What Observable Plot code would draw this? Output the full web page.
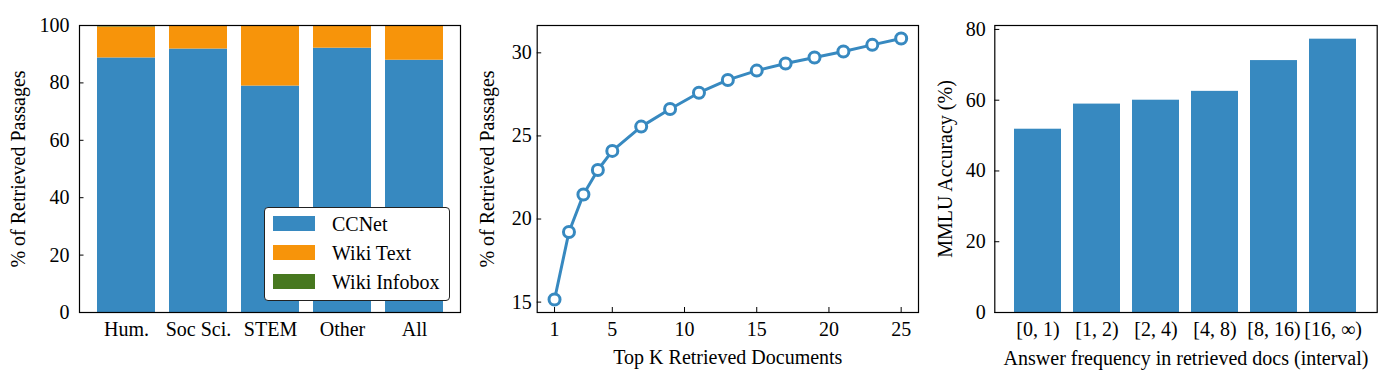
<!DOCTYPE html>
<html><head><meta charset="utf-8">
<script src="https://cdn.jsdelivr.net/npm/d3@7"></script>
<script src="https://cdn.jsdelivr.net/npm/@observablehq/plot@0.6"></script>
<style>
body{margin:0;background:#fff;}
#root{position:relative;width:1389px;height:372px;font-family:"Liberation Serif","Times New Roman",serif;color:#000;}
.panel{position:absolute;top:0;}
.legend{position:absolute;left:264px;top:207px;width:184px;height:92px;border:1.2px solid #222;border-radius:4px;background:#fff;font-size:20px;}
.legend .row{position:absolute;left:0;height:22px;}
.legend .sw{position:absolute;left:8px;width:42px;height:15px;}
.legend .lb{position:absolute;left:67px;white-space:nowrap;line-height:20px;}
</style></head><body><div id="root"></div>
<script>
// ---- Panel 1: stacked share of retrieved passages by MMLU category
const categories = ["Hum.", "Soc Sci.", "STEM", "Other", "All"];
const sources = ["CCNet", "Wiki Text", "Wiki Infobox"];
const ccnetPct = [88.7, 91.8, 78.9, 92.1, 87.9];
const wikiTextPct = [10.8, 8.2, 21.1, 7.6, 12.1];
const wikiInfoboxPct = [0.5, 0.0, 0.0, 0.3, 0.0];
const sourceColors = ["#3789c0", "#f7940a", "#47781f"];
const yTicks1 = [0, 20, 40, 60, 80, 100];

// ---- Panel 2: % of retrieved passages vs top K
const topK = [1, 2, 3, 4, 5, 7, 9, 11, 13, 15, 17, 19, 21, 23, 25];
const retrievedPct = [15.16, 19.22, 21.48, 22.95, 24.1, 25.56, 26.62, 27.6, 28.37, 28.93, 29.36, 29.72, 30.08, 30.48, 30.86];
const xTicks2 = [1, 5, 10, 15, 20, 25];
const yTicks2 = [15, 20, 25, 30];

// ---- Panel 3: MMLU accuracy by answer frequency interval
const intervals = ["[0, 1)", "[1, 2)", "[2, 4)", "[4, 8)", "[8, 16)", "[16, \u221E)"];
const accuracy = [51.8, 58.9, 60.0, 62.5, 71.2, 77.25];
const yTicks3 = [0, 20, 40, 60, 80];

const blue = "#3789c0";
const font = {fontFamily: '"Liberation Serif","Times New Roman",serif', fontSize: "20px", color: "#000", background: "#fff", overflow: "visible"};
const root = document.getElementById("root");
function place(el, left) { el.classList.add("panel"); el.style.left = left + "px"; root.appendChild(el); }
function pad(ext, f = 0.05) { const d = ext[1] - ext[0]; return [ext[0] - d * f, ext[1] + d * f]; }

// Panel 1
const seriesVals = [ccnetPct, wikiTextPct, wikiInfoboxPct];
const stackRows = categories.flatMap((c, i) => sources.map((s, j) => ({category: c, source: s, value: seriesVals[j][i]})));
const p1 = Plot.plot({
  width: 470, height: 372, marginLeft: 79, marginRight: 10, marginTop: 25, marginBottom: 60,
  style: font,
  x: {domain: categories, paddingInner: 0.2, paddingOuter: 0.24, label: null},
  y: {domain: [0, 100], label: null},
  color: {domain: sources, range: sourceColors},
  marks: [
    Plot.barY(stackRows, {x: "category", y: "value", fill: "source"}),
    Plot.frame({stroke: "#000", strokeWidth: 1.2}),
    Plot.axisY({ticks: yTicks1, tickSize: -4.5, tickPadding: 14.5, label: "% of Retrieved Passages", labelAnchor: "center", labelOffset: 69, labelArrow: "none"}),
    Plot.axisX({tickSize: 0, tickPadding: 9.5, label: null})
  ]
});
place(p1, 0);

// Legend for panel 1
const leg = document.createElement("div");
leg.className = "legend";
sources.forEach((s, j) => {
  const sw = document.createElement("div");
  sw.className = "sw"; sw.style.background = sourceColors[j]; sw.style.top = (8 + j * 29.2) + "px";
  const lb = document.createElement("div");
  lb.className = "lb"; lb.textContent = s; lb.style.top = (6 + j * 29.2) + "px";
  leg.appendChild(sw); leg.appendChild(lb);
});
root.appendChild(leg);

// Panel 2
const lineRows = topK.map((k, i) => ({k, v: retrievedPct[i]}));
const p2 = Plot.plot({
  width: 460, height: 372, marginLeft: 66.7, marginRight: 12, marginTop: 25, marginBottom: 60,
  style: font,
  x: {domain: pad(d3.extent(topK)), label: null},
  y: {domain: pad(d3.extent(retrievedPct)), label: null},
  marks: [
    Plot.frame({stroke: "#000", strokeWidth: 1.2}),
    Plot.line(lineRows, {x: "k", y: "v", stroke: blue, strokeWidth: 3}),
    Plot.dot(lineRows, {x: "k", y: "v", r: 5.5, fill: "#fff", stroke: blue, strokeWidth: 3}),
    Plot.axisY({ticks: yTicks2, tickSize: -4.5, tickPadding: 10, label: "% of Retrieved Passages", labelAnchor: "center", labelOffset: 57, labelArrow: "none"}),
    Plot.axisX({ticks: xTicks2, tickSize: -5, tickPadding: 14.5, label: "Top K Retrieved Documents", labelAnchor: "center", labelOffset: 51.6, labelArrow: "none"})
  ]
});
place(p2, 470);

// Panel 3
const accRows = intervals.map((c, i) => ({c, v: accuracy[i]}));
const p3 = Plot.plot({
  width: 459, height: 372, marginLeft: 64.3, marginRight: 12.3, marginTop: 25, marginBottom: 60,
  style: font,
  x: {domain: intervals, paddingInner: 0.2, paddingOuter: 0.29, label: null},
  y: {domain: [0, d3.max(accuracy) * 1.05], label: null},
  marks: [
    Plot.barY(accRows, {x: "c", y: "v", fill: blue}),
    Plot.frame({stroke: "#000", strokeWidth: 1.2}),
    Plot.axisY({ticks: yTicks3, tickSize: -5, tickPadding: 14, label: "MMLU Accuracy (%)", labelAnchor: "center", labelOffset: 57, labelArrow: "none"}),
    Plot.axisX({tickSize: 0, tickPadding: 9.5, label: "Answer frequency in retrieved docs (interval)", labelAnchor: "center", labelOffset: 52, labelArrow: "none"})
  ]
});
place(p3, 930);
</script></body></html>
